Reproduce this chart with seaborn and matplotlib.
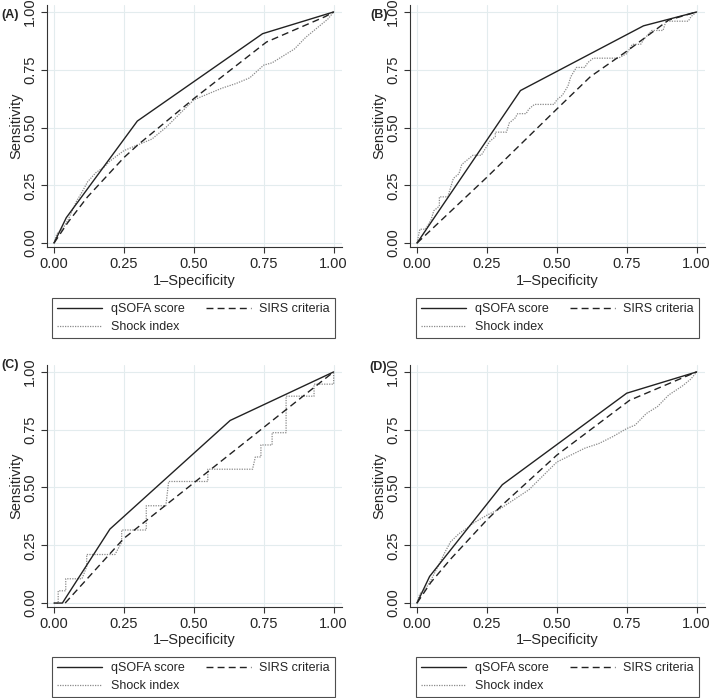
import seaborn as sns
import matplotlib.pyplot as plt
from matplotlib.lines import Line2D

# ROC points (x = 1-Specificity, y = Sensitivity)
# Panel A
a_qsofa_x = [0, 0.044, 0.298, 0.746, 1]
a_qsofa_y = [0, 0.11, 0.528, 0.906, 1]
a_sirs_x = [0, 0.05, 0.12, 0.25, 0.30, 0.50, 0.76, 0.97, 1]
a_sirs_y = [0, 0.09, 0.20, 0.37, 0.425, 0.625, 0.87, 0.98, 1]
a_shock_x = [0, 0.01, 0.03, 0.05, 0.08, 0.10, 0.12, 0.15, 0.18, 0.20, 0.25, 0.30, 0.35,
             0.40, 0.45, 0.50, 0.55, 0.60, 0.65, 0.70, 0.75, 0.78, 0.82, 0.86, 0.90,
             0.95, 0.98, 1]
a_shock_y = [0, 0.04, 0.06, 0.10, 0.18, 0.22, 0.265, 0.305, 0.33, 0.355, 0.40, 0.425, 0.45,
             0.50, 0.56, 0.62, 0.645, 0.67, 0.69, 0.715, 0.77, 0.78, 0.81, 0.84, 0.89,
             0.94, 0.97, 1]

# Panel B
b_qsofa_x = [0, 0.37, 0.81, 1]
b_qsofa_y = [0, 0.66, 0.94, 1]
b_sirs_x = [0, 0.25, 0.50, 0.62, 0.75, 0.90, 1]
b_sirs_y = [0, 0.285, 0.58, 0.72, 0.83, 0.965, 1]
b_shock_x = [0, 0.01, 0.03, 0.05, 0.06, 0.08, 0.08, 0.11, 0.12, 0.13, 0.15, 0.16, 0.18,
             0.20, 0.23, 0.24, 0.26, 0.28, 0.28, 0.32, 0.33, 0.35, 0.36, 0.39, 0.40,
             0.42, 0.49, 0.50, 0.52, 0.54, 0.55, 0.56, 0.57, 0.60, 0.61, 0.63, 0.72,
             0.75, 0.77, 0.80, 0.81, 0.84, 0.88, 0.89, 0.97, 0.98, 1]
b_shock_y = [0, 0.06, 0.06, 0.10, 0.14, 0.16, 0.20, 0.20, 0.24, 0.28, 0.30, 0.34, 0.36,
             0.38, 0.38, 0.40, 0.44, 0.46, 0.48, 0.48, 0.52, 0.54, 0.56, 0.56, 0.58,
             0.60, 0.60, 0.62, 0.64, 0.68, 0.72, 0.74, 0.76, 0.76, 0.78, 0.80, 0.80,
             0.82, 0.86, 0.86, 0.88, 0.92, 0.92, 0.96, 0.96, 0.98, 1]

# Panel C
c_qsofa_x = [0, 0.03, 0.20, 0.63, 1]
c_qsofa_y = [0, 0, 0.32, 0.79, 1]
c_sirs_x = [0.04, 0.25, 1]
c_sirs_y = [0, 0.28, 1]
c_shock_x = [0, 0.015, 0.015, 0.042, 0.042, 0.10, 0.117, 0.117, 0.13, 0.218, 0.242, 0.242,
             0.33, 0.33, 0.40, 0.41, 0.55, 0.55, 0.71, 0.72, 0.74, 0.74, 0.78, 0.78,
             0.83, 0.83, 0.93, 0.93, 1, 1]
c_shock_y = [0, 0, 0.053, 0.053, 0.105, 0.105, 0.158, 0.21, 0.21, 0.21, 0.263, 0.316,
             0.316, 0.421, 0.421, 0.526, 0.526, 0.579, 0.579, 0.632, 0.632, 0.684, 0.684, 0.737,
             0.737, 0.895, 0.895, 0.947, 0.947, 1]

# Panel D
d_qsofa_x = [0, 0.045, 0.305, 0.75, 1]
d_qsofa_y = [0, 0.115, 0.512, 0.908, 1]
d_sirs_x = [0, 0.05, 0.12, 0.25, 0.31, 0.50, 0.76, 0.97, 1]
d_sirs_y = [0, 0.09, 0.19, 0.36, 0.43, 0.64, 0.877, 0.985, 1]
d_shock_x = [0, 0.01, 0.03, 0.05, 0.08, 0.10, 0.12, 0.15, 0.18, 0.20, 0.25, 0.30, 0.35,
             0.40, 0.45, 0.50, 0.55, 0.60, 0.65, 0.70, 0.75, 0.78, 0.82, 0.86, 0.90,
             0.95, 0.98, 1]
d_shock_y = [0, 0.04, 0.06, 0.10, 0.17, 0.22, 0.265, 0.30, 0.325, 0.345, 0.38, 0.41, 0.45,
             0.49, 0.55, 0.61, 0.64, 0.67, 0.69, 0.72, 0.755, 0.77, 0.82, 0.85, 0.90,
             0.94, 0.97, 1]

panels = [
    ('(A)', a_qsofa_x, a_qsofa_y, a_sirs_x, a_sirs_y, a_shock_x, a_shock_y),
    ('(B)', b_qsofa_x, b_qsofa_y, b_sirs_x, b_sirs_y, b_shock_x, b_shock_y),
    ('(C)', c_qsofa_x, c_qsofa_y, c_sirs_x, c_sirs_y, c_shock_x, c_shock_y),
    ('(D)', d_qsofa_x, d_qsofa_y, d_sirs_x, d_sirs_y, d_shock_x, d_shock_y),
]
ticks = [0, 0.25, 0.5, 0.75, 1.0]
tick_labels = ['0.00', '0.25', '0.50', '0.75', '1.00']
legend_labels = ['qSOFA score', 'Shock index', 'SIRS criteria']

sns.set_style('white')
plt.rcParams['font.family'] = ['Liberation Sans', 'DejaVu Sans']

fig = plt.figure(figsize=(7.09, 6.98), dpi=100)

axes_rects = [(0.0663, 0.6461, 0.4161, 0.3467), (0.5783, 0.6461, 0.4161, 0.3467),
              (0.0663, 0.1304, 0.4161, 0.3467), (0.5783, 0.1304, 0.4161, 0.3467)]
# upper-left corners of legend boxes (figure fraction)
legend_corners = [(0.0733, 0.573), (0.5867, 0.573), (0.0733, 0.0587), (0.5867, 0.0587)]
label_pos = [(0.002, 0.978), (0.522, 0.978), (0.002, 0.477), (0.521, 0.474)]

dark = '#222222'
grey = '#8a8a8a'
for i, (name, qx, qy, sx, sy, hx, hy) in enumerate(panels):
    ax = fig.add_axes(axes_rects[i])
    ax.grid(True, color='#e3ecee', linewidth=0.8)
    sns.lineplot(x=hx, y=hy, ax=ax, sort=False, estimator=None, color=grey,
                 linestyle=(0, (1, 1)), linewidth=0.9)
    sns.lineplot(x=sx, y=sy, ax=ax, sort=False, estimator=None, color=dark,
                 linewidth=1.0, linestyle=(0, (5, 3)))
    sns.lineplot(x=qx, y=qy, ax=ax, sort=False, estimator=None, color=dark,
                 linewidth=1.0)
    ax.set_xlim(-0.025, 1.03)
    ax.set_ylim(-0.017, 1.03)
    ax.set_xticks(ticks)
    ax.set_xticklabels(tick_labels, fontsize=10.5)
    ax.set_yticks(ticks)
    ax.set_yticklabels(tick_labels, fontsize=10.5, rotation=90, va='center')
    ax.tick_params(axis='both', direction='out', length=4, width=0.8, color='#333333',
                   bottom=True, left=True, pad=3)
    ax.set_xlabel('1\u2013Specificity', fontsize=10.5, labelpad=2)
    ax.set_ylabel('Sensitivity', fontsize=10.5, labelpad=0)
    for side in ['top', 'right']:
        ax.spines[side].set_visible(False)
    for side in ['left', 'bottom']:
        ax.spines[side].set_color('#333333')
        ax.spines[side].set_linewidth(0.8)

    handles = [Line2D([], [], color=dark, linewidth=1.0),
               Line2D([], [], color=grey, linestyle=(0, (1, 1)), linewidth=0.9),
               Line2D([], [], color=dark, linewidth=1.0, linestyle=(0, (5, 3)))]
    leg = fig.legend(handles, legend_labels, ncol=2, bbox_to_anchor=legend_corners[i],
                     loc='upper left', fontsize=9, frameon=True, fancybox=False,
                     edgecolor=dark, handlelength=3.6, borderaxespad=0,
                     handletextpad=0.7, labelspacing=0.5, borderpad=0.4,
                     columnspacing=1.7)
    leg.get_frame().set_linewidth(0.8)

    fig.text(label_pos[i][0], label_pos[i][1], name, fontsize=9, fontweight='bold',
             va='center', ha='left')

fig.savefig('out.png', dpi=100)
